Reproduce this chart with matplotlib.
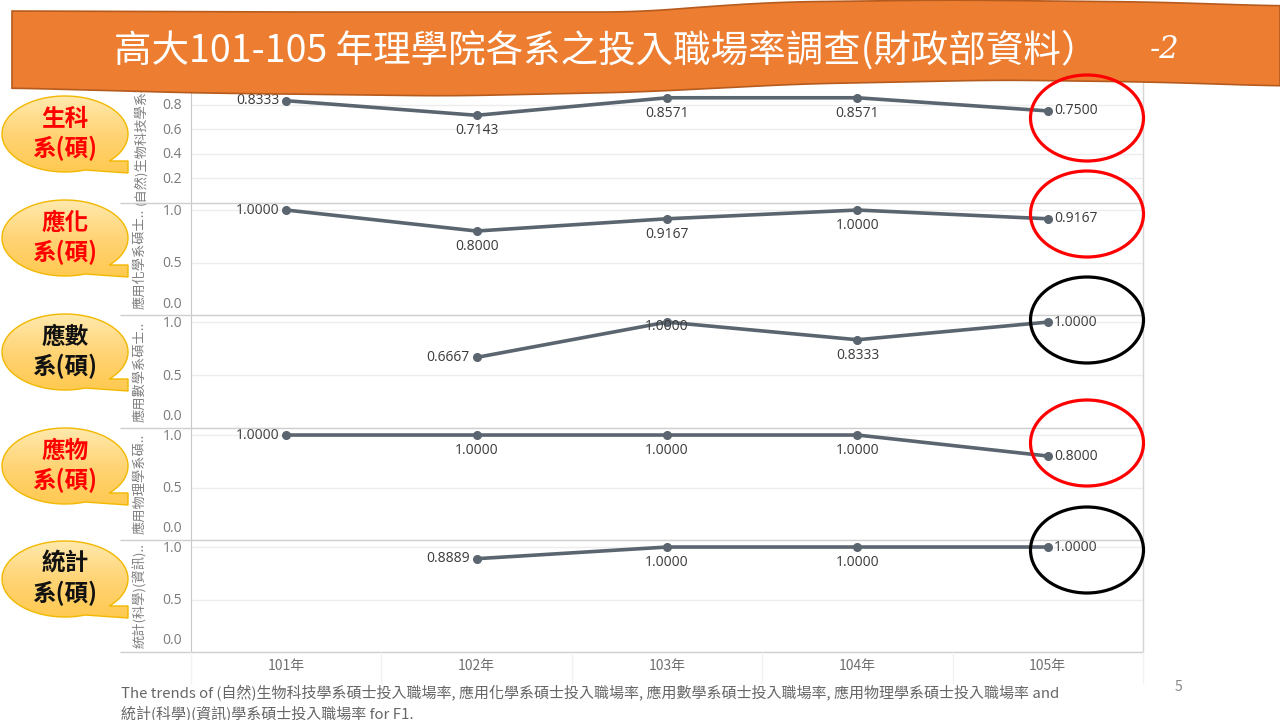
import numpy as np
import matplotlib.pyplot as plt
from matplotlib.patches import Ellipse, Polygon
from matplotlib.colors import LinearSegmentedColormap
from matplotlib.transforms import offset_copy

plt.rcParams['font.family'] = ['Noto Sans CJK TC', 'DejaVu Sans']

# --- data ---
years = ['101年', '102年', '103年', '104年', '105年']
bio = [0.8333, 0.7143, 0.8571, 0.8571, 0.7500]
chem = [1.0000, 0.8000, 0.9167, 1.0000, 0.9167]
amath = [np.nan, 0.6667, 1.0000, 0.8333, 1.0000]
phys = [1.0000, 1.0000, 1.0000, 1.0000, 0.8000]
stat = [np.nan, 0.8889, 1.0000, 1.0000, 1.0000]

axis_titles = ['(自然)生物科技學系碩..', '應用化學系碩士..', '應用數學系碩士..',
               '應用物理學系碩..', '統計(科學)(資訊)..']
dept_tags = ['生科\n系(碩)', '應化\n系(碩)', '應數\n系(碩)', '應物\n系(碩)', '統計\n系(碩)']
tag_colors = ['#FF0000', '#FF0000', '#111111', '#FF0000', '#111111']
ring_colors = ['#FF0000', '#FF0000', '#000000', '#FF0000', '#000000']

title = '高大101-105 年理學院各系之投入職場率調查(財政部資料）'
caption = ['The trends of (自然)生物科技學系碩士投入職場率, 應用化學系碩士投入職場率, '
           '應用數學系碩士投入職場率, 應用物理學系碩士投入職場率 and',
           '統計(科學)(資訊)學系碩士投入職場率 for F1.']

series = [bio, chem, amath, phys, stat]

# --- layout in pixels ---
W, H = 1280, 720
X0, X1 = 191, 1143
edges = [72, 203, 315, 428, 540, 652]
bubble_cy = [134, 238, 352, 466, 579]
ring_cy = [118, 214, 320, 443, 550]

num_font = ['Open Sans', 'DejaVu Sans']

fig = plt.figure(figsize=(12.8, 7.2), dpi=100)


def px_rect(x0, y0, x1, y1):
    return [x0 / W, 1 - y1 / H, (x1 - x0) / W, (y1 - y0) / H]


line_c = '#5b6570'
xs = np.arange(len(years))

for i, vals in enumerate(series):
    ax = fig.add_axes(px_rect(X0, edges[i], X1, edges[i + 1]))
    ax.set_xlim(-0.5, 4.5)
    ax.set_ylim(0, 1.067)
    ticks = [0.2, 0.4, 0.6, 0.8, 1.0] if i == 0 else [0.0, 0.5, 1.0]
    ax.set_yticks(ticks)
    ax.set_yticklabels([])
    ax.tick_params(length=0)
    ax.grid(axis='y', color='#ededed', lw=1)
    ax.set_axisbelow(True)
    for s in ['top', 'right', 'bottom']:
        ax.spines[s].set_visible(False)
    ax.spines['left'].set_color('#c8c8c8')

    # y tick labels
    for t in ticks:
        dy = 11 if t == 0 else -1
        tr = offset_copy(ax.get_yaxis_transform(), fig=fig, x=-9, y=dy, units='dots')
        ax.text(0, t, f'{t:.1f}', transform=tr, ha='right', va='center',
                fontsize=10, color='#7a7a7a', family=num_font)

    # axis title
    tr = offset_copy(ax.transAxes, fig=fig, x=-51, y=0, units='dots')
    ax.text(0, 0.5, axis_titles[i], transform=tr, rotation=90, ha='center',
            va='center', fontsize=9.5, color='#808080')

    ax.plot(xs, vals, color=line_c, lw=2.6, marker='o', ms=5.5,
            solid_capstyle='round', zorder=3)

    valid = [j for j, v in enumerate(vals) if not np.isnan(v)]
    for j in valid:
        if j == valid[0]:
            off, ha, va = (-7, 0), 'right', 'center'
        elif j == valid[-1]:
            off, ha, va = (6, 0), 'left', 'center'
        elif i == 2 and j == 2:
            off, ha, va = (0, -4), 'center', 'center'
        else:
            off, ha, va = (0, -8), 'center', 'top'
        ax.annotate(f'{vals[j]:.4f}', (xs[j], vals[j]), xytext=off,
                    textcoords='offset pixels', ha=ha, va=va,
                    fontsize=10, color='#3a3a3a', family=num_font, zorder=4)

    if i == len(series) - 1:
        ax.set_xticks(xs)
        ax.set_xticklabels(years, fontsize=10, color='#707070')
        ax.tick_params(axis='x', pad=5)
    else:
        ax.set_xticks([])

# --- overlay for slide decorations ---
ov = fig.add_axes([0, 0, 1, 1])
ov.set_zorder(10)
ov.patch.set_alpha(0)
ov.axis('off')

# separators / borders
ov.hlines(edges[1:], 120, X1, color='#cfcfcf', lw=1, zorder=1)
ov.vlines(X1, 80, edges[-1], color='#d5d5d5', lw=1, zorder=1)
cat_w = (X1 - X0) / len(years)
ov.vlines([X0 + k * cat_w for k in range(len(years) + 1)], edges[-1], 684,
          color='#f2f2f2', lw=1, zorder=1)

# banner
bx = np.linspace(12, W, 400)
top_y = np.interp(bx, [12, 300, 640, 700, 780, 950, 1150, 1280],
                  [11, 12, 12, 7, 2, 0, 2, 6])
bot_y = np.interp(bx, [12, 200, 450, 640, 800, 1000, 1150, 1280],
                  [88, 93, 96, 92, 84, 80, 82, 86])
k = np.ones(25) / 25
top_y = np.convolve(np.pad(top_y, 12, mode='edge'), k, mode='valid')
bot_y = np.convolve(np.pad(bot_y, 12, mode='edge'), k, mode='valid')
pts = np.vstack([np.column_stack([bx, top_y]), np.column_stack([bx[::-1], bot_y[::-1]])])
ov.add_patch(Polygon(pts, closed=True, fc='#ED7D31', ec='#B65B1E', lw=1.2, zorder=3))
ov.text(606, 51, title, color='white', fontsize=27, ha='center', va='center', zorder=4)
ov.text(1165, 50, '-2', color='white', fontsize=22, style='italic',
        family='DejaVu Serif', ha='center', va='center', zorder=4)

# callout bubbles
cmap = LinearSegmentedColormap.from_list('bub', ['#FFEAB0', '#FFD475', '#FFC94F'])
grad = np.linspace(0, 1, 64).reshape(-1, 1)
cx, a, b = 65, 63, 38
for i, cy in enumerate(bubble_cy):
    t1 = np.arcsin(27 / b)
    t2 = np.arccos(20 / a)
    th = np.linspace(t2, t1 + 2 * np.pi, 200)
    ell = np.column_stack([cx + a * np.cos(th), cy + b * np.sin(th)])
    tail = np.array([[cx + 63, cy + 27], [cx + 63, cy + 39]])
    shape = Polygon(np.vstack([ell, tail]), closed=True, fc='none',
                    ec='#F2B800', lw=1.0, zorder=6)
    ov.add_patch(shape)
    im = ov.imshow(grad, extent=(cx - a - 2, cx + a + 2, cy + b + 3, cy - b - 2),
                   cmap=cmap, aspect='auto', zorder=5, interpolation='bilinear')
    im.set_clip_path(shape)
    ov.text(cx, cy, dept_tags[i], color=tag_colors[i], fontsize=17, fontweight='bold',
            ha='center', va='center', linespacing=1.25, zorder=7)

# highlight rings on the 105 values
for i, cy in enumerate(ring_cy):
    ov.add_patch(Ellipse((1087, cy), 113, 86, fill=False,
                         ec=ring_colors[i], lw=2.3, zorder=8))

# caption and page number
ov.text(121, 693, caption[0], fontsize=10.8, color='#666666', ha='left', va='center')
ov.text(121, 714, caption[1], fontsize=10.8, color='#666666', ha='left', va='center')
ov.text(1178, 687, '5', fontsize=10, color='#888888', ha='center', va='center')

ov.set_xlim(0, W)
ov.set_ylim(H, 0)

fig.savefig('out.png', dpi=100)
